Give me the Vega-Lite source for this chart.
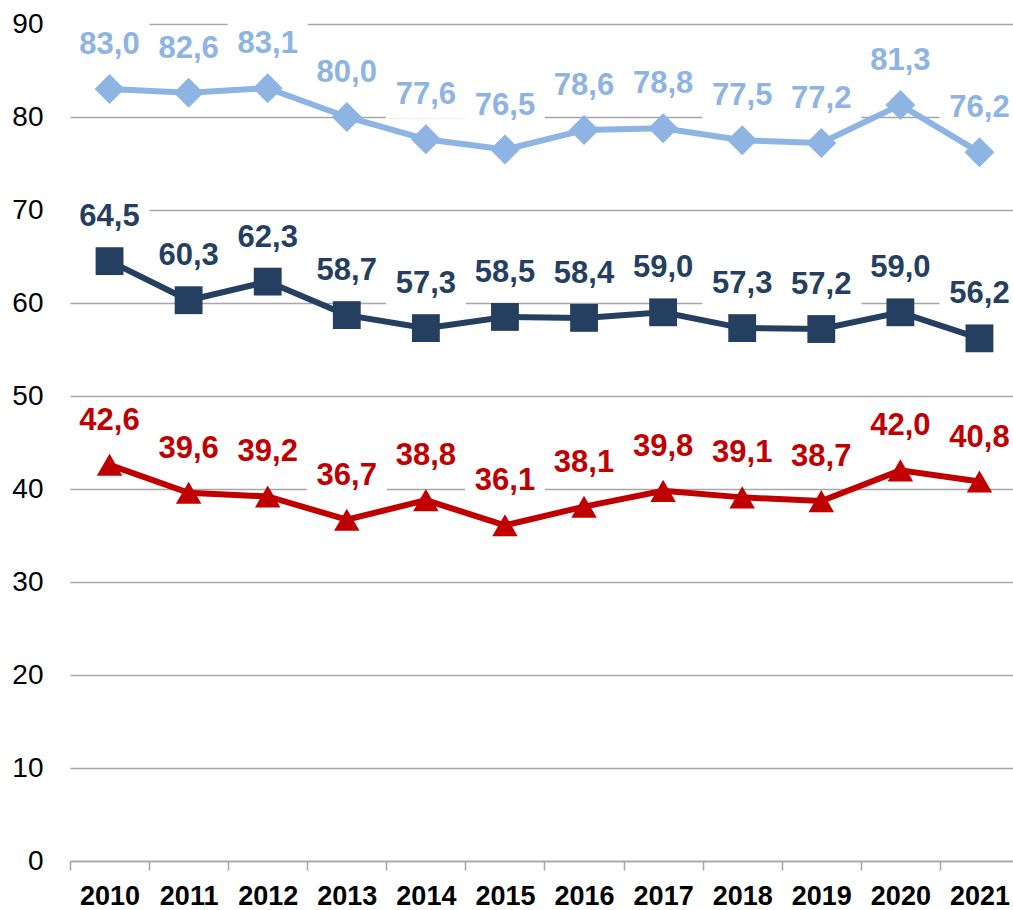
{
  "$schema": "https://vega.github.io/schema/vega-lite/v6.json",
  "width": 949,
  "height": 837,
  "autosize": {"type": "none"},
  "padding": {"left": 70, "top": 24, "right": 0, "bottom": 49},
  "background": "white",
  "config": {
    "locale": {"number": {"decimal": ",", "thousands": ".", "grouping": [3], "currency": ["", " €"]}},
    "view": {"stroke": null},
    "font": "Liberation Sans"
  },
  "data": {
    "values": [
      {"year": "2010", "series": "hi", "value": 83.0},
      {"year": "2011", "series": "hi", "value": 82.6},
      {"year": "2012", "series": "hi", "value": 83.1},
      {"year": "2013", "series": "hi", "value": 80.0},
      {"year": "2014", "series": "hi", "value": 77.6},
      {"year": "2015", "series": "hi", "value": 76.5},
      {"year": "2016", "series": "hi", "value": 78.6},
      {"year": "2017", "series": "hi", "value": 78.8},
      {"year": "2018", "series": "hi", "value": 77.5},
      {"year": "2019", "series": "hi", "value": 77.2},
      {"year": "2020", "series": "hi", "value": 81.3},
      {"year": "2021", "series": "hi", "value": 76.2},
      {"year": "2010", "series": "mid", "value": 64.5},
      {"year": "2011", "series": "mid", "value": 60.3},
      {"year": "2012", "series": "mid", "value": 62.3},
      {"year": "2013", "series": "mid", "value": 58.7},
      {"year": "2014", "series": "mid", "value": 57.3},
      {"year": "2015", "series": "mid", "value": 58.5},
      {"year": "2016", "series": "mid", "value": 58.4},
      {"year": "2017", "series": "mid", "value": 59.0},
      {"year": "2018", "series": "mid", "value": 57.3},
      {"year": "2019", "series": "mid", "value": 57.2},
      {"year": "2020", "series": "mid", "value": 59.0},
      {"year": "2021", "series": "mid", "value": 56.2},
      {"year": "2010", "series": "lo", "value": 42.6},
      {"year": "2011", "series": "lo", "value": 39.6},
      {"year": "2012", "series": "lo", "value": 39.2},
      {"year": "2013", "series": "lo", "value": 36.7},
      {"year": "2014", "series": "lo", "value": 38.8},
      {"year": "2015", "series": "lo", "value": 36.1},
      {"year": "2016", "series": "lo", "value": 38.1},
      {"year": "2017", "series": "lo", "value": 39.8},
      {"year": "2018", "series": "lo", "value": 39.1},
      {"year": "2019", "series": "lo", "value": 38.7},
      {"year": "2020", "series": "lo", "value": 42.0},
      {"year": "2021", "series": "lo", "value": 40.8}
    ]
  },
  "encoding": {
    "x": {
      "field": "year",
      "type": "ordinal",
      "bandPosition": 0.5,
      "scale": {"type": "band", "paddingInner": 0, "paddingOuter": 0},
      "axis": {
        "title": null,
        "labelAngle": 0,
        "labelFont": "Liberation Sans",
        "labelFontSize": 27,
        "labelFontWeight": "bold",
        "labelColor": "black",
        "tickBand": "extent",
        "tickSize": 9,
        "tickColor": "#a6a6a6",
        "tickWidth": 1.5,
        "domainColor": "#a6a6a6",
        "domainWidth": 1.5,
        "labelPadding": 13,
        "grid": false
      }
    },
    "y": {
      "field": "value",
      "type": "quantitative",
      "scale": {"domain": [0, 90], "nice": false},
      "axis": {
        "title": null,
        "values": [0, 10, 20, 30, 40, 50, 60, 70, 80, 90],
        "format": "d",
        "grid": true,
        "gridColor": "#a6a6a6",
        "gridWidth": 1.5,
        "domain": false,
        "ticks": false,
        "labelFont": "Liberation Sans",
        "labelFontSize": 28,
        "labelColor": "black",
        "labelPadding": 27
      }
    },
    "color": {
      "field": "series",
      "type": "nominal",
      "scale": {"domain": ["hi", "mid", "lo"], "range": ["#8DB4E2", "#243F60", "#C00000"]},
      "legend": null
    }
  },
  "layer": [
    {
      "mark": {"type": "point", "shape": "M-1,-0.575H1V0.575H-1Z", "size": 6400, "filled": true, "opacity": 1, "yOffset": -44},
      "encoding": {"color": {"value": "white"}}
    },
    {
      "mark": {"type": "line", "strokeWidth": 6}
    },
    {
      "mark": {"type": "point", "filled": true, "opacity": 1},
      "encoding": {
        "shape": {"field": "series", "type": "nominal", "scale": {"domain": ["hi", "mid", "lo"], "range": ["diamond", "square", "triangle-up"]}, "legend": null},
        "size": {"field": "series", "type": "nominal", "scale": {"domain": ["hi", "mid", "lo"], "range": [900, 650, 800]}, "legend": null}
      }
    },
    {
      "mark": {"type": "text", "dy": -44, "fontWeight": "bold", "fontSize": 31, "baseline": "middle", "font": "Liberation Sans"},
      "encoding": {"text": {"field": "value", "type": "quantitative", "format": ".1f"}}
    }
  ]
}
